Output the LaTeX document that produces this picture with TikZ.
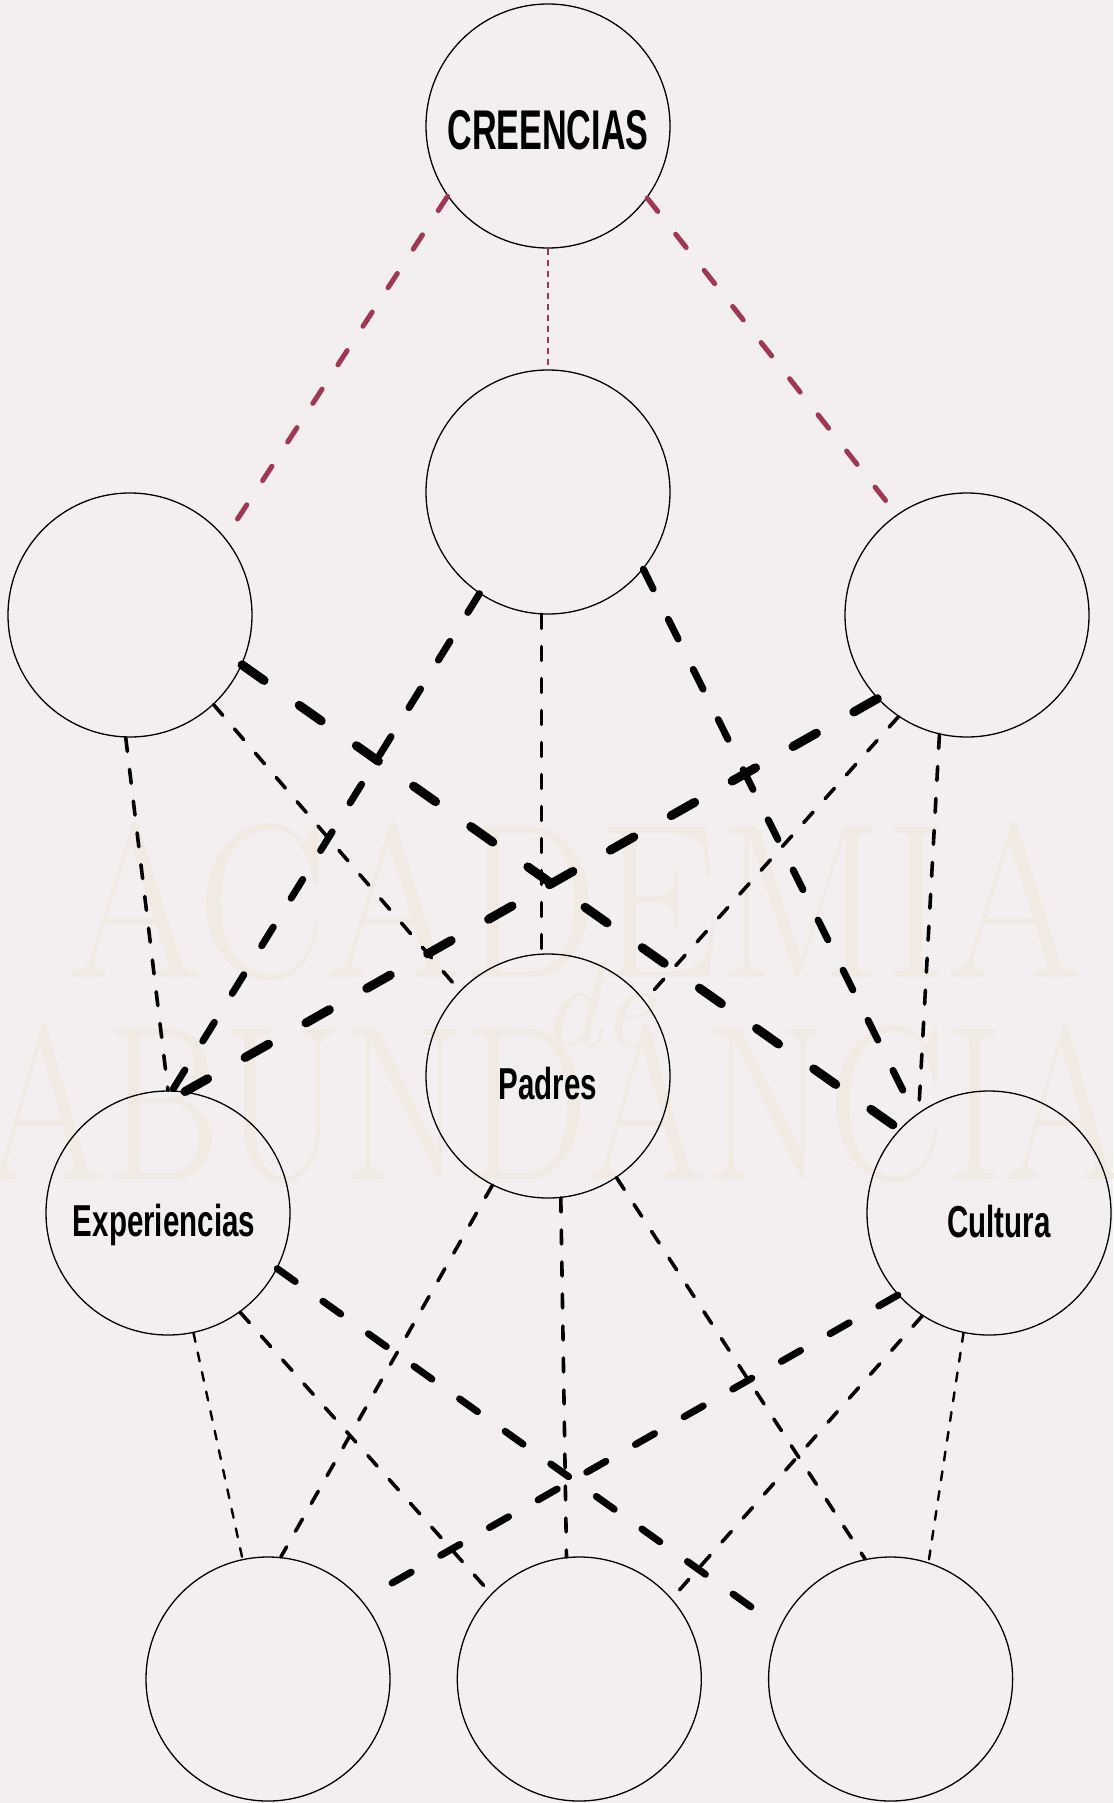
\documentclass[tikz,border=0pt]{standalone}
\usepackage{fontspec}
\usepackage{graphicx}
\usepackage{tikz}
\usetikzlibrary{positioning}
\newfontfamily\tagfont[FakeStretch=0.66]{Liberation Sans}
\newfontfamily\titlefont[FakeStretch=0.61]{Liberation Sans}
\definecolor{paper}{RGB}{243,239,240}
\definecolor{wine}{RGB}{160,56,84}
\definecolor{sand}{RGB}{240,234,227}
\tikzstyle{bubble}=[draw, circle, line width=1.3pt, minimum size=244pt, inner sep=0pt]
\tikzstyle{tag}=[anchor=base, inner sep=0pt, font=\tagfont\bfseries\fontsize{44.7}{50}\selectfont]
\tikzstyle{watermark}=[anchor=base, inner sep=0pt, text=sand]
\tikzstyle{redlink}=[wine, line width=5pt, line cap=round, dash pattern=on 17pt off 29pt]
\tikzstyle{redthin}=[wine, line width=1.4pt, dash pattern=on 6pt off 5pt]
\tikzstyle{thinlink}=[line width=2.4pt, line cap=round, dash pattern=on 9pt off 11pt]
\tikzstyle{midlink}=[line width=3.6pt, line cap=round, dash pattern=on 14pt off 18pt]
\tikzstyle{heavylink}=[line width=7pt, line cap=round, dash pattern=on 22pt off 34pt]
\tikzstyle{heavierlink}=[line width=9pt, line cap=round, dash pattern=on 27pt off 43pt]

\begin{document}
\begin{tikzpicture}[x=1pt, y=-1pt, node distance=66pt]
    \fill[paper] (0,0) rectangle (1113,1803);
    \useasboundingbox (0,0) rectangle (1113,1803);
    \clip (0,0) rectangle (1113,1803);

    % watermark
    \node[watermark, font=\fontsize{220}{220}\selectfont] (wmtop) at (575,977) {\scalebox{0.88}[1]{ACADEMIA}};
    \node[watermark, font=\fontsize{220}{220}\selectfont] (wmbot) at (555,1179) {\scalebox{0.80}[1]{ABUNDANCIA}};
    \node[watermark, font=\itshape\fontsize{120}{120}\selectfont] (wmde) at (598,1046) {de};

    % circles
    \node[bubble] (cre) at (548,126) {};
    \node[bubble] (mid) at (548,492) {};
    \node[bubble] (lft) at (130,615) {};
    \node[bubble] (rgt) at (967,615) {};
    \node[bubble] (padres) at (548,1076) {};
    \node[bubble] (exper) at (168,1213) {};
    \node[bubble] (cult) at (989,1213) {};
    \node[bubble] (bl) at (268,1679) {};
    \node[bubble, right=of bl] (bc) {};
    \node[bubble, right=of bc] (br) {};

    \node[tag, font=\titlefont\bfseries\fontsize{56}{60}\selectfont] (cretxt) at (548,150) {CREENCIAS};
    \node[tag] (padrestxt) at (548,1099) {Padres};
    \node[tag] (expertxt) at (164,1236) {Experiencias};
    \node[tag] (culttxt) at (999,1237) {Cultura};

    \draw[redlink] (cre.215) -- (lft.39);
    \draw[redthin] (cre.270) -- (mid.90);
    \draw[redlink] (cre.324) -- (rgt.125);

    \draw[midlink] (lft.268) -- (exper.90);
    \draw[midlink] (lft.313) -- (padres.136);
    \draw[heavierlink] (lft.336) -- (cult.137);

    \draw[heavylink] (mid.236) -- (exper.88);
    \draw[midlink] (mid.267) -- (padres.93);
    \draw[heavylink] (mid.321) -- (cult.127);

    \draw[heavierlink] (rgt.223) -- (exper.82);
    \draw[midlink] (rgt.236) -- (padres.38);
    \draw[midlink] (rgt.257) -- (cult.125);

    \draw[midlink] (padres.243) -- (bl.84);
    \draw[midlink] (padres.276) -- (bc.96);
    \draw[midlink] (padres.304) -- (br.102);

    \draw[thinlink] (exper.282) -- (bl.102);
    \draw[midlink] (exper.306) -- (bc.136);
    \draw[heavylink, shorten >=3pt] (exper.333) -- (br.155);

    \draw[heavylink, shorten >=3pt] (cult.222) -- (bl.40);
    \draw[midlink] (cult.237) -- (bc.41);
    \draw[thinlink] (cult.258) -- (br.72);
\end{tikzpicture}
\end{document}
